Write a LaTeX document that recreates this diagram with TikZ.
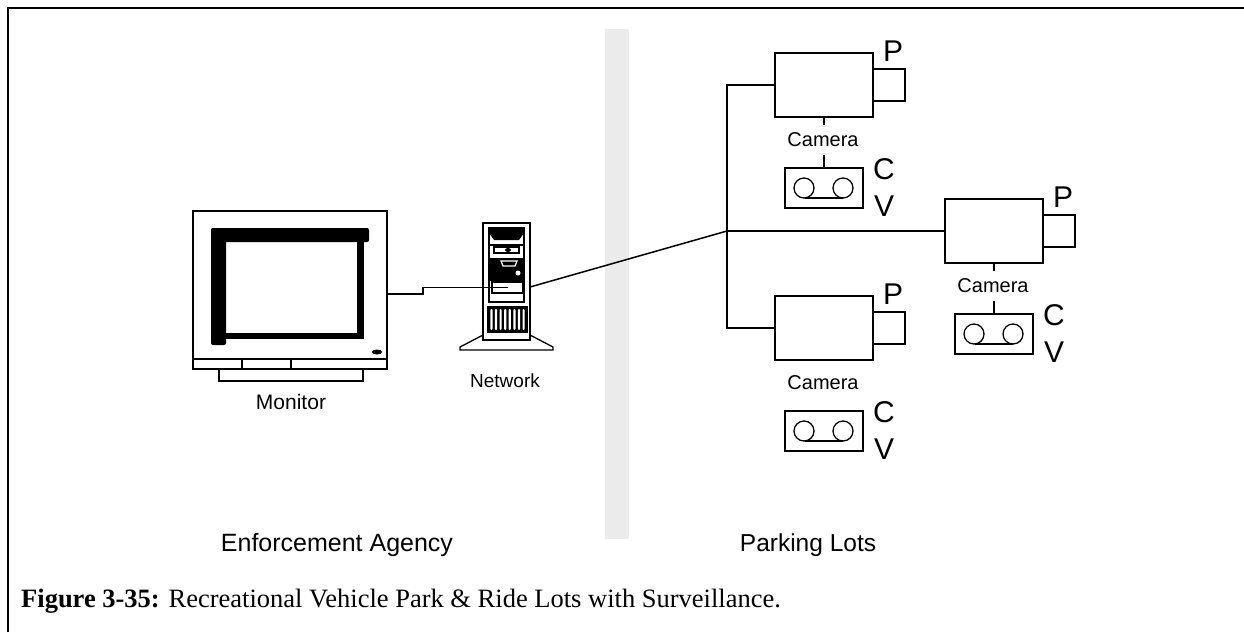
\documentclass[tikz,border=0pt]{standalone}
\usepackage{fontspec}
\setmainfont{Liberation Serif}
\setsansfont{Liberation Sans}
\definecolor{band}{HTML}{EBEBEB}
\begin{document}
\begin{tikzpicture}[x=1pt,y=-1pt,
  wire/.style={line width=1.5pt},
  box/.style={draw, line width=1.5pt, inner sep=0pt, outer sep=0pt},
  lbl/.style={font=\sffamily\fontsize{20}{24}\selectfont, inner sep=0pt},
  big/.style={font=\sffamily\fontsize{30}{36}\selectfont, inner sep=0pt},
  area/.style={font=\sffamily\fontsize{25}{30}\selectfont, inner sep=0pt},
  camera/.pic={
    \node[box, minimum width=98pt, minimum height=64pt, anchor=north west] (-body) at (0,0) {};
    \node[box, minimum width=32pt, minimum height=32pt, anchor=north west] (-lens) at (98,16) {};
    \node[big] (-p) at (118,-2) {P};
    \node[lbl] (-lab) at (48,87) {Camera};
    \node[box, minimum width=78pt, minimum height=40pt, anchor=north west] (-vcr) at (10,115) {};
    \draw[line width=1.3pt] (29,135) circle[radius=10pt] (68,135) circle[radius=10pt];
    \draw[line width=1.3pt] (30,145) -- (68,145);
    \node[big] (-c) at (109,116) {C};
    \node[big] (-v) at (109,153) {V};
  }]
\useasboundingbox (0,0) rectangle (1244,632);

% frame and divider band
\draw[line width=2pt] (7.5,632) -- (7.5,7.5) -- (1244,7.5);
\fill[band] (605,29) rectangle (629,539);

% monitor
\node[box, line width=2pt, minimum width=194pt, minimum height=148pt, anchor=north west] (monitor) at (193,211) {};
\draw[line width=2pt] (193,359) rectangle (387,369);
\draw[line width=1.5pt] (242,359) -- (242,369) (291,359) -- (291,369);
\draw[line width=2pt] (219,369) rectangle (363,381);
\fill[rounded corners=2pt] (211,228) rectangle (369,242);
\fill[rounded corners=2pt] (211,228) rectangle (226,345);
\fill (211,333) rectangle (364,339);
\fill (357,236) rectangle (364,339);
\fill (377,352) ellipse[x radius=5pt, y radius=2.5pt];
\node[lbl, font=\sffamily\fontsize{21}{25}\selectfont] (monlab) at (291,402) {Monitor};

% network server tower
\draw[line width=1.3pt, fill=white] (483,335) -- (460,347) -- (460,350) -- (553,350) -- (553,347) -- (530,335) -- cycle;
\node[box, fill=white, line width=1.3pt, minimum width=47pt, minimum height=117pt, anchor=north west] (tower) at (483,223) {};
\node[box, line width=1.2pt, minimum width=35pt, minimum height=74pt, anchor=north west] (panel) at (489,228) {};
\fill (489,228) rectangle (524,233);
\fill (489,233) -- (524,233) -- (519,240) -- (494,240) -- cycle;
\draw[line width=1.2pt] (489,245) -- (524,245);
\draw[line width=1.2pt] (494,247) rectangle (519,253);
\fill (508,250) ellipse[x radius=3pt, y radius=2pt];
\fill (490,258) rectangle (523,281);
\draw[white, line width=1.2pt] (501,261) -- (517,261) -- (515,266) -- (503,266) -- cycle;
\fill[white] (518,273) circle[radius=2.5pt];
\node[box, line width=1.2pt, minimum width=31pt, minimum height=11pt, anchor=north west] (bay) at (492,282) {};
\fill (487,306) rectangle (528,333);
\foreach \i in {0,...,7}
  \fill[white, rounded corners=1pt] (490.3+\i*4.6,309) rectangle ++(2.2,21);
\node[lbl, font=\sffamily\fontsize{19}{23}\selectfont] (netlab) at (505,381) {Network};

% cameras with recorders
\pic (c1) at (775,53) {camera};
\pic (c2) at (945,199) {camera};
\pic (c3) at (775,296) {camera};
\draw[wire] (c1-body.south) -- ++(0,8);
\draw[wire] (c1-vcr.north) -- ++(0,-13);
\draw[wire] (c2-body.south) -- ++(0,8);
\draw[wire] (c2-vcr.north) -- ++(0,-13);

% connections
\coordinate (hub) at (727,231);
\draw[wire] ([yshift=-9pt]monitor.east) -- ++(36,0) |- (bay.center);
\draw[wire] ([yshift=-5.5pt]tower.east) -- (hub);
\draw[wire] (c1-body.west) -- ++(-48,0) |- (c3-body.west);
\draw[wire] (hub) -- (c2-body.west);

% area labels and caption
\node[area] (ea) at (337,545) {Enforcement Agency};
\node[area, font=\sffamily\fontsize{24.5}{30}\selectfont] (pl) at (808,545) {Parking Lots};
\node[font=\fontsize{26.5}{30}\selectfont, anchor=base west, inner sep=0pt] (cap) at (21,607)
  {\textbf{Figure 3-35:} Recreational Vehicle Park \& Ride Lots with Surveillance.};
\end{tikzpicture}
\end{document}
